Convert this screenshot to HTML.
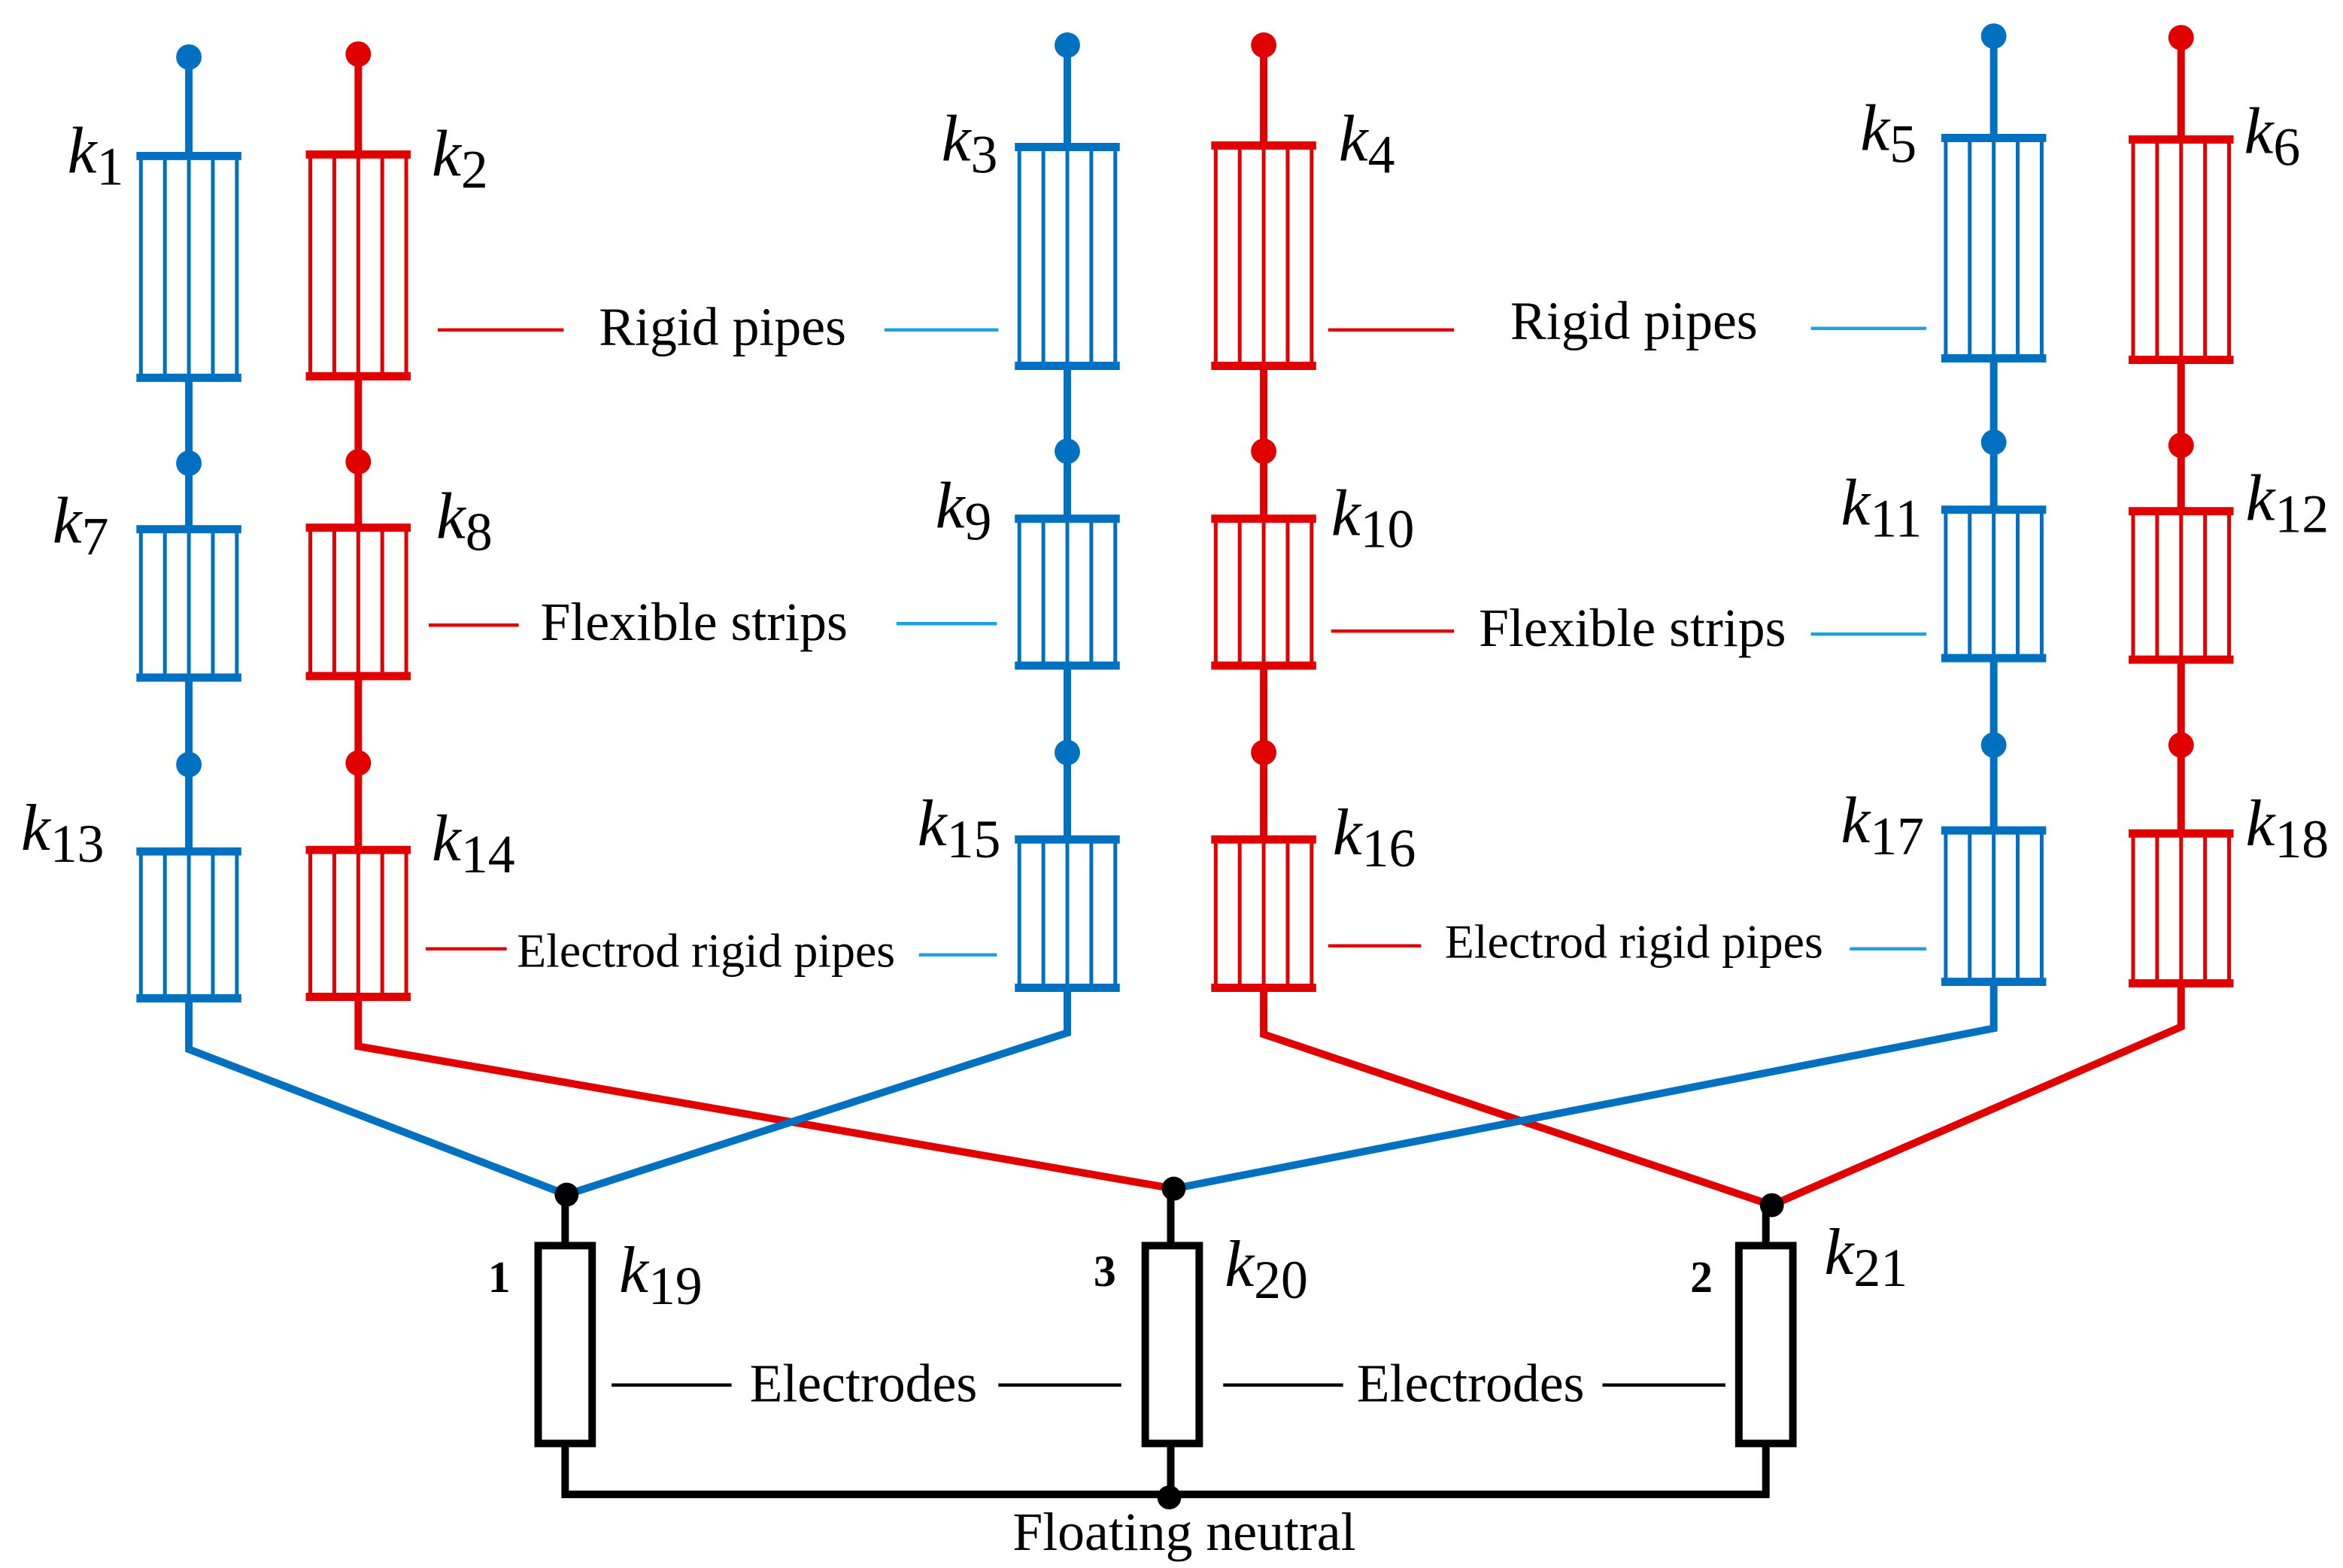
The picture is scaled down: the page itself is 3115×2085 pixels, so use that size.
<!DOCTYPE html>
<html><head><meta charset="utf-8"><style>
html,body{margin:0;padding:0;background:#fff;}
svg{display:block;}
text{font-family:"Liberation Serif",serif;}
.k{font-style:italic;font-size:44px;fill:#000;}
.s{font-style:normal;font-size:36px;}
.lab{font-size:36px;fill:#000;}
.lab2{font-size:32px;fill:#000;}
</style></head><body>
<svg width="3115" height="2085" viewBox="0 0 1563 1046" xmlns="http://www.w3.org/2000/svg">
<g id="wires" fill="none" stroke-width="5">
<path d="M126 38V700L378 797" stroke="#0070C0"/>
<path d="M239 36V698L783 793" stroke="#E00000"/>
<path d="M712 30V689L378 797" stroke="#0070C0"/>
<path d="M843 30V690L1182 804" stroke="#E00000"/>
<path d="M1330 24V686L783 793" stroke="#0070C0"/>
<path d="M1455 25V685L1182 804" stroke="#E00000"/>
</g>
<g id="dots">
<g fill="#0070C0">
<circle cx="126" cy="38" r="8.5"/><circle cx="126" cy="309" r="8.5"/><circle cx="126" cy="510" r="8.5"/>
<circle cx="712" cy="30" r="8.5"/><circle cx="712" cy="301" r="8.5"/><circle cx="712" cy="502" r="8.5"/>
<circle cx="1330" cy="24" r="8.5"/><circle cx="1330" cy="295" r="8.5"/><circle cx="1330" cy="497" r="8.5"/>
</g>
<g fill="#E00000">
<circle cx="239" cy="36" r="8.5"/><circle cx="239" cy="308" r="8.5"/><circle cx="239" cy="509" r="8.5"/>
<circle cx="843" cy="30" r="8.5"/><circle cx="843" cy="301" r="8.5"/><circle cx="843" cy="502" r="8.5"/>
<circle cx="1455" cy="25" r="8.5"/><circle cx="1455" cy="297" r="8.5"/><circle cx="1455" cy="497" r="8.5"/>
</g>
</g>
<g id="boxes">
<g stroke="#0070C0" fill="#fff">
<g transform="translate(126,0)">
<rect x="-33" y="104" width="66" height="148" stroke="none"/>
<path d="M-35 104H35M-35 252H35" stroke-width="5.5"/>
<path d="M-32 104V252M-16 104V252M0 104V252M16 104V252M32 104V252" stroke-width="2.5"/>
</g>
<g transform="translate(126,0)">
<rect x="-33" y="353" width="66" height="99" stroke="none"/>
<path d="M-35 353H35M-35 452H35" stroke-width="5.5"/>
<path d="M-32 353V452M-16 353V452M0 353V452M16 353V452M32 353V452" stroke-width="2.5"/>
</g>
<g transform="translate(126,0)">
<rect x="-33" y="568" width="66" height="98" stroke="none"/>
<path d="M-35 568H35M-35 666H35" stroke-width="5.5"/>
<path d="M-32 568V666M-16 568V666M0 568V666M16 568V666M32 568V666" stroke-width="2.5"/>
</g>
<g transform="translate(712,0)">
<rect x="-33" y="98" width="66" height="146" stroke="none"/>
<path d="M-35 98H35M-35 244H35" stroke-width="5.5"/>
<path d="M-32 98V244M-16 98V244M0 98V244M16 98V244M32 98V244" stroke-width="2.5"/>
</g>
<g transform="translate(712,0)">
<rect x="-33" y="346" width="66" height="98" stroke="none"/>
<path d="M-35 346H35M-35 444H35" stroke-width="5.5"/>
<path d="M-32 346V444M-16 346V444M0 346V444M16 346V444M32 346V444" stroke-width="2.5"/>
</g>
<g transform="translate(712,0)">
<rect x="-33" y="560" width="66" height="99" stroke="none"/>
<path d="M-35 560H35M-35 659H35" stroke-width="5.5"/>
<path d="M-32 560V659M-16 560V659M0 560V659M16 560V659M32 560V659" stroke-width="2.5"/>
</g>
<g transform="translate(1330,0)">
<rect x="-33" y="92" width="66" height="147" stroke="none"/>
<path d="M-35 92H35M-35 239H35" stroke-width="5.5"/>
<path d="M-32 92V239M-16 92V239M0 92V239M16 92V239M32 92V239" stroke-width="2.5"/>
</g>
<g transform="translate(1330,0)">
<rect x="-33" y="340" width="66" height="99" stroke="none"/>
<path d="M-35 340H35M-35 439H35" stroke-width="5.5"/>
<path d="M-32 340V439M-16 340V439M0 340V439M16 340V439M32 340V439" stroke-width="2.5"/>
</g>
<g transform="translate(1330,0)">
<rect x="-33" y="554" width="66" height="101" stroke="none"/>
<path d="M-35 554H35M-35 655H35" stroke-width="5.5"/>
<path d="M-32 554V655M-16 554V655M0 554V655M16 554V655M32 554V655" stroke-width="2.5"/>
</g>
</g>
<g stroke="#E00000" fill="#fff">
<g transform="translate(239,0)">
<rect x="-33" y="103" width="66" height="148" stroke="none"/>
<path d="M-35 103H35M-35 251H35" stroke-width="5.5"/>
<path d="M-32 103V251M-16 103V251M0 103V251M16 103V251M32 103V251" stroke-width="2.5"/>
</g>
<g transform="translate(239,0)">
<rect x="-33" y="352" width="66" height="99" stroke="none"/>
<path d="M-35 352H35M-35 451H35" stroke-width="5.5"/>
<path d="M-32 352V451M-16 352V451M0 352V451M16 352V451M32 352V451" stroke-width="2.5"/>
</g>
<g transform="translate(239,0)">
<rect x="-33" y="567" width="66" height="98" stroke="none"/>
<path d="M-35 567H35M-35 665H35" stroke-width="5.5"/>
<path d="M-32 567V665M-16 567V665M0 567V665M16 567V665M32 567V665" stroke-width="2.5"/>
</g>
<g transform="translate(843,0)">
<rect x="-33" y="97" width="66" height="147" stroke="none"/>
<path d="M-35 97H35M-35 244H35" stroke-width="5.5"/>
<path d="M-32 97V244M-16 97V244M0 97V244M16 97V244M32 97V244" stroke-width="2.5"/>
</g>
<g transform="translate(843,0)">
<rect x="-33" y="346" width="66" height="98" stroke="none"/>
<path d="M-35 346H35M-35 444H35" stroke-width="5.5"/>
<path d="M-32 346V444M-16 346V444M0 346V444M16 346V444M32 346V444" stroke-width="2.5"/>
</g>
<g transform="translate(843,0)">
<rect x="-33" y="560" width="66" height="99" stroke="none"/>
<path d="M-35 560H35M-35 659H35" stroke-width="5.5"/>
<path d="M-32 560V659M-16 560V659M0 560V659M16 560V659M32 560V659" stroke-width="2.5"/>
</g>
<g transform="translate(1455,0)">
<rect x="-33" y="93" width="66" height="147" stroke="none"/>
<path d="M-35 93H35M-35 240H35" stroke-width="5.5"/>
<path d="M-32 93V240M-16 93V240M0 93V240M16 93V240M32 93V240" stroke-width="2.5"/>
</g>
<g transform="translate(1455,0)">
<rect x="-33" y="341" width="66" height="99" stroke="none"/>
<path d="M-35 341H35M-35 440H35" stroke-width="5.5"/>
<path d="M-32 341V440M-16 341V440M0 341V440M16 341V440M32 341V440" stroke-width="2.5"/>
</g>
<g transform="translate(1455,0)">
<rect x="-33" y="556" width="66" height="100" stroke="none"/>
<path d="M-35 556H35M-35 656H35" stroke-width="5.5"/>
<path d="M-32 556V656M-16 556V656M0 556V656M16 556V656M32 556V656" stroke-width="2.5"/>
</g>
</g>
</g>
<g stroke="#000" stroke-width="5" fill="none">
<path d="M377 797V831M377 963V997H1178V963M1178 831V804M781 793V831M781 963V997"/>
<rect x="359" y="831" width="36" height="132" fill="#fff"/>
<rect x="764" y="831" width="36" height="132" fill="#fff"/>
<rect x="1160" y="831" width="36" height="132" fill="#fff"/>
</g>
<g fill="#000">
<circle cx="378" cy="797" r="8"/><circle cx="783" cy="793" r="8"/><circle cx="1182" cy="804" r="8"/><circle cx="780" cy="999" r="8"/>
</g>
<g stroke-width="2.2">
<path d="M292 220H376M886 220H970M286 417H346M888 421H970M284 633H338M886 631H948" stroke="#E00000"/>
<path d="M590 220H666M1208 219H1285M598 416H665M1208 423H1285M613 637H665M1234 633H1285" stroke="#1BA1E2"/>
<path d="M408 924H488M666 924H748M816 924H896M1069 924H1151" stroke="#000"/>
</g>
<g class="lab" text-anchor="middle">
<text x="482" y="230">Rigid pipes</text>
<text x="1090" y="226">Rigid pipes</text>
<text x="463" y="427">Flexible strips</text>
<text x="1089" y="431">Flexible strips</text>
<text x="576" y="935">Electrodes</text>
<text x="981" y="935">Electrodes</text>
<text x="790" y="1034">Floating neutral</text>
</g>
<g class="lab2" text-anchor="middle">
<text x="471" y="645">Electrod rigid pipes</text>
<text x="1090" y="639">Electrod rigid pipes</text>
</g>
<g font-weight="bold" font-size="30" text-anchor="middle">
<text x="333" y="862">1</text><text x="737" y="858">3</text><text x="1135" y="862">2</text>
</g>
<g class="k">
<text x="45" y="115">k<tspan class="s" dy="8">1</tspan></text>
<text x="288" y="117">k<tspan class="s" dy="8">2</tspan></text>
<text x="628" y="107">k<tspan class="s" dy="8">3</tspan></text>
<text x="893" y="107">k<tspan class="s" dy="8">4</tspan></text>
<text x="1241" y="100">k<tspan class="s" dy="8">5</tspan></text>
<text x="1497" y="102">k<tspan class="s" dy="8">6</tspan></text>
<text x="35" y="362">k<tspan class="s" dy="8">7</tspan></text>
<text x="291" y="359">k<tspan class="s" dy="8">8</tspan></text>
<text x="624" y="352">k<tspan class="s" dy="8">9</tspan></text>
<text x="888" y="357">k<tspan class="s" dy="8">10</tspan></text>
<text x="1228" y="350">k<tspan class="s" dy="8">11</tspan></text>
<text x="1498" y="347">k<tspan class="s" dy="8">12</tspan></text>
<text x="14" y="567">k<tspan class="s" dy="8">13</tspan></text>
<text x="288" y="574">k<tspan class="s" dy="8">14</tspan></text>
<text x="612" y="564">k<tspan class="s" dy="8">15</tspan></text>
<text x="889" y="570">k<tspan class="s" dy="8">16</tspan></text>
<text x="1228" y="562">k<tspan class="s" dy="8">17</tspan></text>
<text x="1498" y="564">k<tspan class="s" dy="8">18</tspan></text>
<text x="413" y="862">k<tspan class="s" dy="8">19</tspan></text>
<text x="817" y="858">k<tspan class="s" dy="8">20</tspan></text>
<text x="1217" y="850">k<tspan class="s" dy="8">21</tspan></text>
</g>
</svg>
</body></html>
